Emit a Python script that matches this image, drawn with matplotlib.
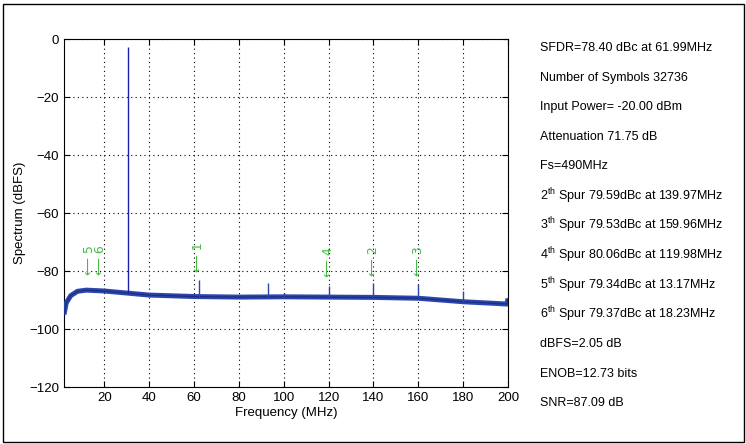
import numpy as np
import matplotlib
matplotlib.use("Agg")
import matplotlib.pyplot as plt
from matplotlib.patches import Rectangle

plt.rcParams['font.family'] = ['Liberation Sans', 'DejaVu Sans']
plt.rcParams['mathtext.default'] = 'regular'

# Noise floor
floor_freq = [2, 3, 5, 8, 12, 20, 30, 40, 60, 80, 100, 120, 140, 160, 180, 195, 199.5, 200]
floor_db = [-95, -91, -88.5, -87, -86.6, -86.9, -87.6, -88.3, -88.8, -89.0, -88.9, -89.0,
            -89.1, -89.4, -90.6, -91.2, -91.4, -89.5]

# Fundamental tone and visible spikes
tone_freq = 30.7
tone_db = -2.7
spike_freq = [61.99, 92.8, 100.0, 119.98, 139.97, 159.96, 180.0]
spike_db = [-83.0, -84.0, -87.5, -85.0, -84.0, -84.5, -87.0]

# Marked spurs (label, freq MHz, level dBFS)
spur_labels = ['1', '2', '3', '4', '5', '6']
spur_freq = [61.99, 139.97, 159.96, 119.98, 13.17, 18.23]
spur_db = [-80.45, -81.64, -81.58, -82.11, -81.39, -81.42]

info_lines = [
    'SFDR=78.40 dBc at 61.99MHz',
    'Number of Symbols 32736',
    'Input Power= -20.00 dBm',
    'Attenuation 71.75 dB',
    'Fs=490MHz',
    '2$^{th}$ Spur 79.59dBc at 139.97MHz',
    '3$^{th}$ Spur 79.53dBc at 159.96MHz',
    '4$^{th}$ Spur 80.06dBc at 119.98MHz',
    '5$^{th}$ Spur 79.34dBc at 13.17MHz',
    '6$^{th}$ Spur 79.37dBc at 18.23MHz',
    'dBFS=2.05 dB',
    'ENOB=12.73 bits',
    'SNR=87.09 dB',
]

fig = plt.figure(figsize=(7.46, 4.44), dpi=100)
ax = fig.add_axes([64 / 746, 1 - 387 / 444, (508 - 64) / 746, (387 - 39) / 444])

blue = '#2b47ae'
ax.plot(floor_freq, floor_db, color=blue, lw=3.6, solid_capstyle='butt', zorder=3)
ax.plot(floor_freq, floor_db, color='#1c2c80', lw=0.9, zorder=3)
ax.vlines(tone_freq, np.interp(tone_freq, floor_freq, floor_db), tone_db, color='#2020b0', lw=1.0, zorder=3)
ax.vlines(spike_freq, np.interp(spike_freq, floor_freq, floor_db), spike_db, color=blue, lw=1.0, zorder=3)

green = '#44bb44'
for lab, f, d in zip(spur_labels, spur_freq, spur_db):
    ax.text(f, d, '\u27f5 ' + lab, rotation=90, color=green, fontsize=9,
            family=['DejaVu Sans'], ha='left', va='center', rotation_mode='anchor', zorder=4)

ax.set_xlim(2, 200)
ax.set_ylim(-120, 0)
ax.set_xticks(np.arange(20, 201, 20))
ax.set_yticks(np.arange(-120, 1, 20))
ax.grid(True, color='black', linestyle=(0, (1, 3)), linewidth=0.8)
ax.tick_params(direction='in', top=True, right=True, labelsize=9.5, length=4)
for s in ax.spines.values():
    s.set_linewidth(0.8)
ax.set_xlabel('Frequency (MHz)', fontsize=9.5, labelpad=2)
ax.set_ylabel('Spectrum (dBFS)', fontsize=9.5, labelpad=2)

y0 = 48
for i, line in enumerate(info_lines):
    fig.text(540 / 746, 1 - (y0 + i * 29.6) / 444, line, fontsize=9, va='center', ha='left')

fig.patches.append(Rectangle((3 / 746, 2 / 444), 741 / 746, 438 / 444, transform=fig.transFigure,
                             fill=False, edgecolor='black', linewidth=1.0))

fig.savefig('out.png', dpi=100)
